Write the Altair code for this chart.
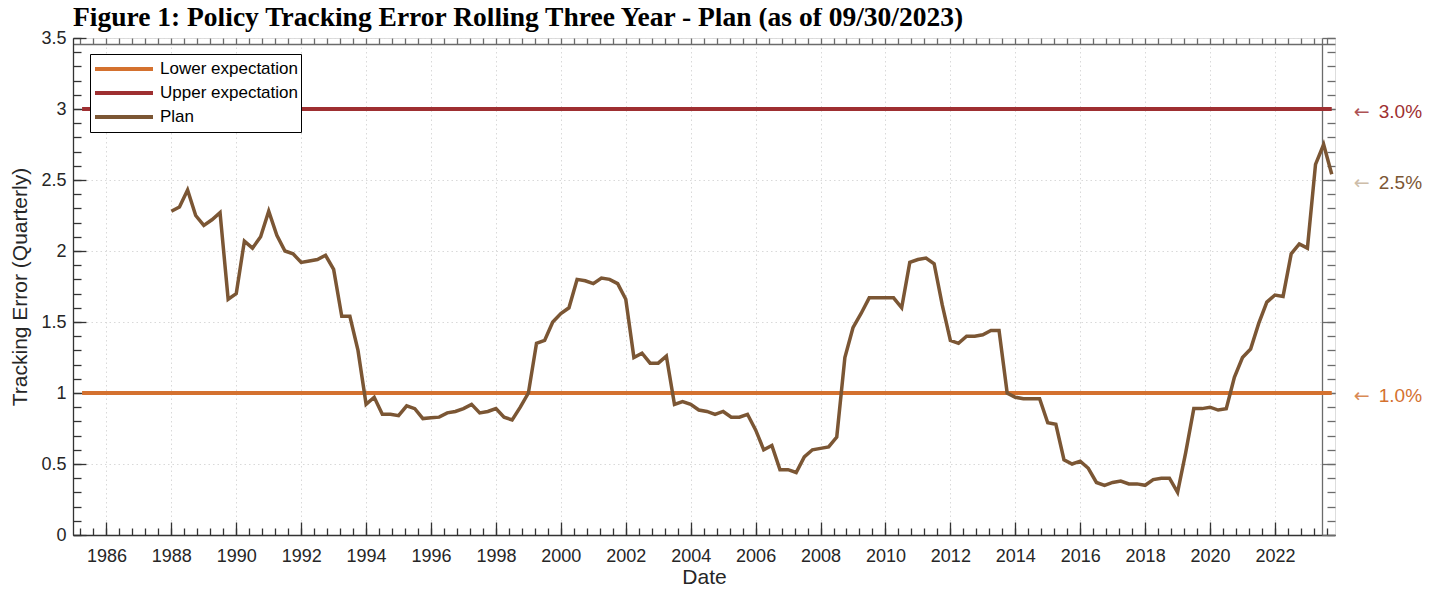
import altair as alt
import pandas as pd

# ---------------- data ----------------
plan_start_year = 1988.0          # first quarterly observation (Q4 1987)
plan_values = [
    2.28, 2.31, 2.43, 2.25, 2.18, 2.22, 2.27, 1.66, 1.70, 2.07,
    2.02, 2.10, 2.28, 2.11, 2.00, 1.98, 1.92, 1.93, 1.94, 1.97,
    1.87, 1.54, 1.54, 1.30, 0.92, 0.97, 0.85, 0.85, 0.84, 0.91,
    0.89, 0.82, 0.825, 0.83, 0.86, 0.87, 0.89, 0.92, 0.86, 0.87,
    0.89, 0.83, 0.81, 0.90, 1.00, 1.35, 1.37, 1.50, 1.56, 1.60,
    1.80, 1.79, 1.77, 1.81, 1.80, 1.77, 1.66, 1.25, 1.28, 1.21,
    1.21, 1.26, 0.92, 0.94, 0.92, 0.88, 0.87, 0.85, 0.87, 0.83,
    0.83, 0.85, 0.74, 0.60, 0.63, 0.46, 0.46, 0.44, 0.55, 0.60,
    0.61, 0.62, 0.69, 1.25, 1.46, 1.56, 1.67, 1.67, 1.67, 1.67,
    1.60, 1.92, 1.94, 1.95, 1.91, 1.62, 1.37, 1.35, 1.40, 1.40,
    1.41, 1.44, 1.44, 1.00, 0.97, 0.96, 0.96, 0.96, 0.79, 0.78,
    0.53, 0.50, 0.52, 0.47, 0.37, 0.35, 0.37, 0.38, 0.36, 0.36,
    0.35, 0.39, 0.40, 0.40, 0.30, 0.58, 0.89, 0.89, 0.90, 0.88,
    0.89, 1.11, 1.25, 1.31, 1.49, 1.64, 1.69, 1.68, 1.98, 2.05,
    2.02, 2.61, 2.75, 2.54,
]
plan_dates = [plan_start_year + 0.25 * i for i in range(len(plan_values))]

expectation_dates = [1985.25, 2023.75]
lower_expectation = 1.0
upper_expectation = 3.0

series_names = ["Lower expectation", "Upper expectation", "Plan"]
series_colors = ["#D4712F", "#9E2F31", "#7B5634"]
arrow_colors = ["#D98A55", "#AD5254", "#CDBDA9"]

annot_values = [3.0, 2.5, 1.0]
annot_labels = ["3.0%", "2.5%", "1.0%"]
annot_arrow = "\u2190"
annot_series = ["Upper expectation", "Plan", "Lower expectation"]
annot_date = 2023.75

major_years = list(range(1986, 2023, 2))
minor_years = [round(1985.2 + 0.4 * k, 2) for k in range(0, 98)]
major_y = [0, 0.5, 1, 1.5, 2, 2.5, 3, 3.5]
minor_y = [round(0.1 * k, 2) for k in range(0, 36)]

title_text = "Figure 1: Policy Tracking Error Rolling Three Year - Plan (as of 09/30/2023)"

# ---------------- tables ----------------
plan_df = pd.DataFrame({"date": plan_dates, "value": plan_values, "series": "Plan"})
exp_df = pd.DataFrame({
    "date": expectation_dates * 2,
    "value": [lower_expectation] * 2 + [upper_expectation] * 2,
    "series": ["Lower expectation"] * 2 + ["Upper expectation"] * 2,
})
annot_df = pd.DataFrame({"value": annot_values, "label": annot_labels,
                         "arrow": annot_arrow, "series": annot_series, "date": annot_date})

SANS = "Liberation Sans"
xs = alt.Scale(domain=[1984.97, 2023.85], nice=False, zero=False)
ys = alt.Scale(domain=[0, 3.5], nice=False, zero=False)
cs = alt.Scale(domain=series_names, range=series_colors)

legend = alt.Legend(
    orient="none", legendX=17, legendY=16, title=None,
    symbolType="stroke", symbolSize=3364, symbolStrokeWidth=4,
    clipHeight=24, rowPadding=0, padding=3, labelOffset=5,
    labelFontSize=17, labelFont=SANS, labelColor="black",
    strokeColor="black", fillColor="white", cornerRadius=0,
    labelLimit=400,
)

exp_layer = alt.Chart(exp_df).mark_line(strokeWidth=4).encode(
    x=alt.X("date:Q", scale=xs, axis=None),
    y=alt.Y("value:Q", scale=ys, axis=None),
    color=alt.Color("series:N", scale=cs, legend=legend),
    detail="series:N",
)

plan_layer = alt.Chart(plan_df).mark_line(strokeWidth=3.5).encode(
    x=alt.X("date:Q", scale=xs, axis=None),
    y=alt.Y("value:Q", scale=ys, axis=None),
    color=alt.Color("series:N", scale=cs, legend=legend),
)


def axis_layer(xaxis=None, yaxis=None):
    return alt.Chart(plan_df).mark_line(opacity=0).encode(
        x=alt.X("date:Q", scale=xs, axis=xaxis),
        y=alt.Y("value:Q", scale=ys, axis=yaxis),
    )


DARK = "#333333"
GREY = "#6b6b6b"
GRID = "#d9d9d9"

x_labels = alt.Axis(
    orient="bottom", values=major_years, format="d", ticks=False, tickSize=0,
    labelPadding=12, labelFontSize=18, labelFont=SANS, labelColor="#262626",
    labelFlush=False, labelOverlap=False,
    domain=True, domainColor=DARK, domainWidth=1.3,
    grid=True, gridColor=GRID, gridDash=[1.5, 3], gridWidth=1,
    title="Date", titleFontSize=21, titleFont=SANS, titleFontWeight="normal",
    titleColor="#262626", titlePadding=1,
)
x_major_b = alt.Axis(orient="bottom", values=major_years, labels=False, domain=False,
                     grid=False, tickSize=13, offset=-13, tickColor=DARK, tickWidth=1.3, title=None)
x_minor_b = alt.Axis(orient="bottom", values=minor_years, labels=False, domain=False,
                     grid=False, tickSize=7, offset=-7, tickColor=DARK, tickWidth=1.3, title=None)
x_minor_t = alt.Axis(orient="top", values=minor_years, labels=False, domain=True, domainColor=GREY,
                     domainWidth=1.3, grid=False, tickSize=6, offset=-6, tickColor=GREY,
                     tickWidth=1.3, title=None)

y_labels = alt.Axis(
    orient="left", values=major_y, format="~g", ticks=False, tickSize=0,
    labelPadding=7, labelFontSize=18, labelFont=SANS, labelColor="#262626",
    labelFlush=False, labelOverlap=False,
    domain=True, domainColor=DARK, domainWidth=1.3,
    grid=True, gridColor=GRID, gridDash=[1.5, 3], gridWidth=1,
    title="Tracking Error (Quarterly)", titleFontSize=21, titleFont=SANS,
    titleFontWeight="normal", titleColor="#262626", titlePadding=10,
)
y_major_l = alt.Axis(orient="left", values=major_y, labels=False, domain=False, grid=False,
                     tickSize=13, offset=-13, tickColor=DARK, tickWidth=1.3, title=None)
y_minor_l = alt.Axis(orient="left", values=minor_y, labels=False, domain=False, grid=False,
                     tickSize=8, offset=-8, tickColor=DARK, tickWidth=1.3, title=None)
y_major_r = alt.Axis(orient="right", values=major_y, labels=False, domain=True, domainColor=GREY,
                     domainWidth=1.3, grid=False, tickSize=13, offset=-13, tickColor=GREY,
                     tickWidth=1.3, title=None)
y_minor_r = alt.Axis(orient="right", values=minor_y, labels=False, domain=False, grid=False,
                     tickSize=8, offset=-8, tickColor=GREY, tickWidth=1.3, title=None)

axis_layers = [
    axis_layer(xaxis=x_labels), axis_layer(xaxis=x_major_b), axis_layer(xaxis=x_minor_b),
    axis_layer(xaxis=x_minor_t),
    axis_layer(yaxis=y_labels), axis_layer(yaxis=y_major_l), axis_layer(yaxis=y_minor_l),
    axis_layer(yaxis=y_major_r), axis_layer(yaxis=y_minor_r),
]

text_layers = []
for name, col, acol in zip(series_names, series_colors, arrow_colors):
    base = alt.Chart(annot_df).transform_filter(alt.datum.series == name)
    enc = dict(
        x=alt.X("date:Q", scale=xs, axis=None),
        y=alt.Y("value:Q", scale=ys, axis=None),
    )
    text_layers.append(
        base.mark_text(align="left", baseline="middle", dx=22, dy=3, fontSize=19,
                       font="DejaVu Sans", color=acol).encode(text="arrow:N", **enc)
    )
    text_layers.append(
        base.mark_text(align="left", baseline="middle", dx=47, dy=3, fontSize=19,
                       font=SANS, color=col).encode(text="label:N", **enc)
    )

chart = alt.layer(
    *axis_layers, exp_layer, plan_layer, *text_layers
).resolve_axis(
    x="independent", y="independent"
).properties(
    width=1262, height=497,
    autosize="none",
    padding={"left": 65, "top": 30, "right": 90, "bottom": 52},
    title=alt.TitleParams(
        text=title_text, anchor="start", frame="group", font="Liberation Serif",
        fontSize=27.5, fontWeight="bold", color="black", offset=8, dy=10,
    ),
).configure_view(stroke=None).configure(background="white")

chart.save("out.html", embed_options={"renderer": "svg", "actions": False})
